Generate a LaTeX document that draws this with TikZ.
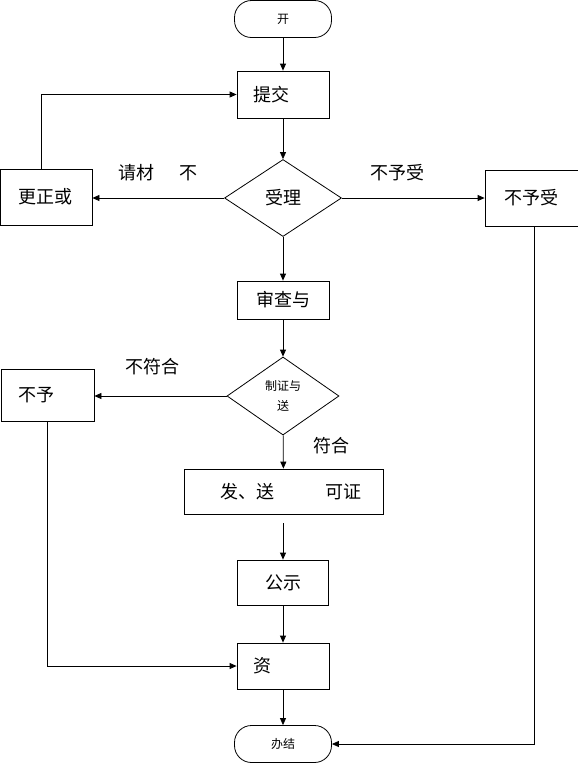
\documentclass[tikz,border=0pt]{standalone}
\usepackage{fontspec}
\setmainfont{Noto Sans CJK SC}
\usetikzlibrary{arrows.meta, shapes.geometric}

\begin{document}
\begin{tikzpicture}[x=1pt, y=-1pt, line width=0.8pt,
    every node/.style={font=\fontsize{18}{20}\selectfont},
    arr/.style={-{Triangle[length=7pt, width=6pt]}},
    box/.style 2 args={draw, rectangle, inner sep=0pt, minimum width=#1, minimum height=#2},
    lbox/.style n args={3}{draw, rectangle, minimum height=#1, inner ysep=0pt,
      inner xsep=#2, text width=#3, align=left},
    decision/.style 2 args={draw, diamond, inner sep=0pt, minimum width=#1, minimum height=#2},
    term/.style={draw, rectangle, rounded corners=17pt, minimum width=97pt,
      minimum height=37pt, inner sep=0pt, font=\fontsize{12}{14}\selectfont},
    lbl/.style={inner sep=0pt}]
  \def\spine{283}

  \useasboundingbox (0,0) rectangle (578,764);

  % Main column ------------------------------------------------------------
  \node[term] (start) at (\spine,19) {开};
  \node[lbox={47pt}{16pt}{60pt}] (submit) at (\spine,94.5) {提交};
  \node[decision={117pt}{77pt}] (accept) at (\spine,198) {受理};
  \node[box={92pt}{38pt}] (review) at (\spine,300) {审查与};
  \node[decision={112pt}{78pt}, font=\fontsize{12}{20}\selectfont, align=center]
    (cert) at (\spine,396) {制证与\\送};
  \node[box={199pt}{45pt}] (issue) at (\spine+0.5,491.5)
    {\makebox[127pt][l]{发、送\hspace{52pt}可证}};
  \coordinate (gap) at (\spine,523);
  \node[box={91pt}{45pt}] (publish) at (\spine,582.5) {公示};
  \node[lbox={46pt}{16pt}{60pt}] (data) at (\spine,666) {资};
  \node[term] (finish) at (\spine,744) {办结};

  % Side boxes -------------------------------------------------------------
  \node[box={92pt}{56pt}] (fix) at (46,197) {更正或};
  \node[box={93pt}{56pt}] (noaccept) at (531.5,198) {不予受};
  \node[lbox={52pt}{18pt}{57pt}] (deny) at (47.5,395) {不予};

  % Labels -----------------------------------------------------------------
  \node[lbl] (backlbl) at (158,173) {请材\hspace{25pt}不};
  \node[lbl] (rejlbl) at (397,173) {不予受};
  \node[lbl] (nolbl) at (152,367) {不符合};
  \node[lbl] (yeslbl) at (331,446) {符合};

  % Connectors -------------------------------------------------------------
  \draw[arr] (start) -- (submit);
  \draw[arr] (submit) -- (accept);
  \draw[arr] (accept.west) -- (fix.east |- accept.west);
  \draw[arr] ([xshift=-5pt]fix.north) |- (submit.west);
  \draw[arr] (accept.east) -- (noaccept.west |- accept.east);
  \draw[arr] ([xshift=2.5pt]noaccept.south) |- (finish.east);
  \draw[arr] (accept) -- (review);
  \draw[arr] (review) -- (cert);
  \draw[arr] (cert.west) -- (deny.east |- cert.west);
  \draw[arr] (deny.south) |- (data.west);
  \draw[arr] (cert) -- (issue);
  \draw[arr] (gap) -- (publish);
  \draw[arr] (publish) -- (data);
  \draw[arr] (data) -- (finish);

\end{tikzpicture}
\end{document}
